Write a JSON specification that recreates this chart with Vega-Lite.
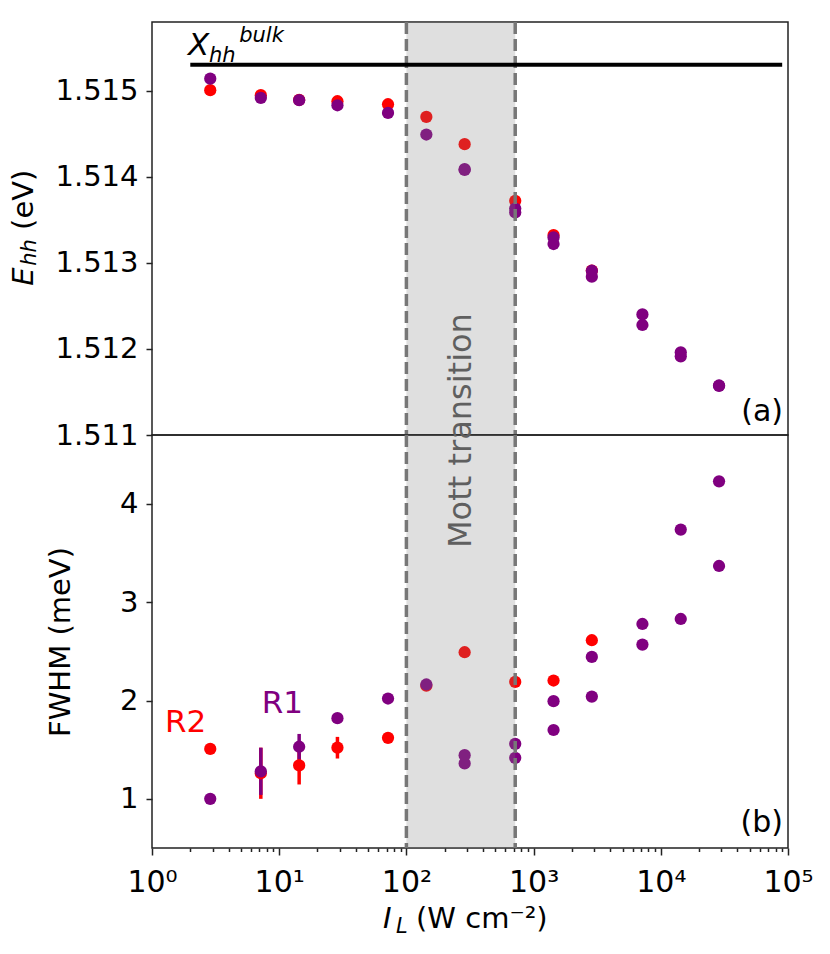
{
  "$schema": "https://vega.github.io/schema/vega-lite/v6.json",
  "description": "Heavy-hole exciton energy and FWHM vs excitation intensity, R1 and R2.",
  "padding": {"left": 9, "top": 19, "right": 5, "bottom": 5},
  "spacing": 0,
  "bounds": "flush",
  "datasets": {
    "top": [
      {"x": 2.87, "e": 1.515005, "s": "R2"},
      {"x": 7.17, "e": 1.514947, "s": "R2"},
      {"x": 14.35, "e": 1.514893, "s": "R2"},
      {"x": 28.7, "e": 1.514877, "s": "R2"},
      {"x": 71.7, "e": 1.514842, "s": "R2"},
      {"x": 143.5, "e": 1.514695, "s": "R2"},
      {"x": 287, "e": 1.514378, "s": "R2"},
      {"x": 717, "e": 1.51372, "s": "R2"},
      {"x": 1435, "e": 1.513322, "s": "R2"},
      {"x": 2870, "e": 1.51291, "s": "R2"},
      {"x": 2.87, "e": 1.515139, "s": "R1"},
      {"x": 7.17, "e": 1.514915, "s": "R1"},
      {"x": 14.35, "e": 1.514889, "s": "R1"},
      {"x": 28.7, "e": 1.51483, "s": "R1"},
      {"x": 71.7, "e": 1.514741, "s": "R1"},
      {"x": 143.5, "e": 1.51449, "s": "R1"},
      {"x": 287, "e": 1.514088, "s": "R1"},
      {"x": 287, "e": 1.514078, "s": "R1"},
      {"x": 717, "e": 1.51363, "s": "R1"},
      {"x": 717, "e": 1.513585, "s": "R1"},
      {"x": 1435, "e": 1.513295, "s": "R1"},
      {"x": 1435, "e": 1.513218, "s": "R1"},
      {"x": 2870, "e": 1.512908, "s": "R1"},
      {"x": 2870, "e": 1.512839, "s": "R1"},
      {"x": 7170, "e": 1.512401, "s": "R1"},
      {"x": 7170, "e": 1.512278, "s": "R1"},
      {"x": 14350, "e": 1.511961, "s": "R1"},
      {"x": 14350, "e": 1.511914, "s": "R1"},
      {"x": 28700, "e": 1.511575, "s": "R1"},
      {"x": 28700, "e": 1.51157, "s": "R1"}
    ],
    "bottom": [
      {"x": 2.87, "w": 1.508, "s": "R2"},
      {"x": 7.17, "w": 1.26, "lo": 1.0, "hi": 1.52, "s": "R2"},
      {"x": 14.35, "w": 1.34, "lo": 1.146, "hi": 1.54, "s": "R2"},
      {"x": 28.7, "w": 1.52, "lo": 1.41, "hi": 1.63, "s": "R2"},
      {"x": 71.7, "w": 1.62, "s": "R2"},
      {"x": 143.5, "w": 2.15, "s": "R2"},
      {"x": 287, "w": 2.491, "s": "R2"},
      {"x": 717, "w": 2.189, "s": "R2"},
      {"x": 1435, "w": 2.203, "s": "R2"},
      {"x": 2870, "w": 2.613, "s": "R2"},
      {"x": 2.87, "w": 1.0, "s": "R1"},
      {"x": 7.17, "w": 1.28, "lo": 1.04, "hi": 1.52, "s": "R1"},
      {"x": 14.35, "w": 1.53, "lo": 1.4, "hi": 1.66, "s": "R1"},
      {"x": 28.7, "w": 1.82, "s": "R1"},
      {"x": 71.7, "w": 2.02, "s": "R1"},
      {"x": 143.5, "w": 2.163, "s": "R1"},
      {"x": 287, "w": 1.444, "s": "R1"},
      {"x": 287, "w": 1.36, "s": "R1"},
      {"x": 717, "w": 1.559, "s": "R1"},
      {"x": 717, "w": 1.417, "s": "R1"},
      {"x": 1435, "w": 1.993, "s": "R1"},
      {"x": 1435, "w": 1.7, "s": "R1"},
      {"x": 2870, "w": 2.443, "s": "R1"},
      {"x": 2870, "w": 2.04, "s": "R1"},
      {"x": 7170, "w": 2.778, "s": "R1"},
      {"x": 7170, "w": 2.569, "s": "R1"},
      {"x": 14350, "w": 3.738, "s": "R1"},
      {"x": 14350, "w": 2.829, "s": "R1"},
      {"x": 28700, "w": 4.229, "s": "R1"},
      {"x": 28700, "w": 3.368, "s": "R1"}
    ]
  },
  "vconcat": [
    {
      "width": 636,
      "height": 413,
      "layer": [
        {
          "data": {"name": "top"},
          "mark": {"type": "circle", "size": 150, "opacity": 1},
          "encoding": {
            "x": {"field": "x", "type": "quantitative", "scale": {"type": "log", "domain": [1, 100000]}, "axis": null},
            "y": {
              "field": "e", "type": "quantitative",
              "scale": {"domain": [1.511, 1.515797], "zero": false, "nice": false},
              "axis": {"values": [1.511, 1.512, 1.513, 1.514, 1.515], "format": ".3f", "title": null}
            },
            "color": {"field": "s", "type": "nominal", "scale": {"domain": ["R2", "R1"], "range": ["#ff0000", "#800080"]}, "legend": null}
          }
        },
        {
          "data": {"values": [{}]},
          "mark": {"type": "rect", "color": "#808080", "opacity": 0.25},
          "encoding": {"x": {"datum": 100, "type": "quantitative"}, "x2": {"datum": 717}}
        },
        {
          "data": {"values": [{}]},
          "layer": [
            {"mark": {"type": "rule", "color": "#777777", "strokeWidth": 3.5, "strokeDash": [12, 5]}, "encoding": {"x": {"datum": 100, "type": "quantitative"}}},
            {"mark": {"type": "rule", "color": "#777777", "strokeWidth": 3.5, "strokeDash": [12, 5]}, "encoding": {"x": {"datum": 717, "type": "quantitative"}}},
            {"mark": {"type": "rule", "color": "#000000", "strokeWidth": 4}, "encoding": {"x": {"datum": 2, "type": "quantitative"}, "x2": {"datum": 90000}, "y": {"datum": 1.5153, "type": "quantitative"}}},
            {"mark": {"type": "text", "text": "X", "fontSize": 31, "fontStyle": "italic", "align": "left", "baseline": "alphabetic", "color": "#000"}, "encoding": {"x": {"datum": 1.919, "type": "quantitative"}, "y": {"datum": 1.515411, "type": "quantitative"}}},
            {"mark": {"type": "text", "text": "hh", "fontSize": 21, "fontStyle": "italic", "align": "left", "baseline": "alphabetic", "color": "#000"}, "encoding": {"x": {"datum": 2.8, "type": "quantitative"}, "y": {"datum": 1.515333, "type": "quantitative"}}},
            {"mark": {"type": "text", "text": "bulk", "fontSize": 21, "fontStyle": "italic", "align": "left", "baseline": "alphabetic", "color": "#000"}, "encoding": {"x": {"datum": 4.85, "type": "quantitative"}, "y": {"datum": 1.515565, "type": "quantitative"}}},
            {"mark": {"type": "text", "text": "(a)", "fontSize": 30, "align": "right", "baseline": "alphabetic", "color": "#000"}, "encoding": {"x": {"datum": 91400, "type": "quantitative"}, "y": {"datum": 1.51116, "type": "quantitative"}}},
            {"mark": {"type": "text", "text": "E", "fontSize": 29, "fontStyle": "italic", "angle": 270, "align": "left", "baseline": "alphabetic", "color": "#000"}, "encoding": {"x": {"datum": 0.117, "type": "quantitative"}, "y": {"datum": 1.512734, "type": "quantitative"}}},
            {"mark": {"type": "text", "text": "hh", "fontSize": 21, "fontStyle": "italic", "angle": 270, "align": "left", "baseline": "alphabetic", "color": "#000"}, "encoding": {"x": {"datum": 0.1225, "type": "quantitative"}, "y": {"datum": 1.512966, "type": "quantitative"}}},
            {"mark": {"type": "text", "text": "(eV)", "fontSize": 29, "angle": 270, "align": "left", "baseline": "alphabetic", "color": "#000"}, "encoding": {"x": {"datum": 0.117, "type": "quantitative"}, "y": {"datum": 1.513382, "type": "quantitative"}}}
          ]
        }
      ]
    },
    {
      "width": 636,
      "height": 413,
      "layer": [
        {
          "data": {"name": "bottom"},
          "transform": [{"filter": "isValid(datum.lo)"}],
          "mark": {"type": "rule", "strokeWidth": 3.5},
          "encoding": {
            "x": {"field": "x", "type": "quantitative", "scale": {"type": "log", "domain": [1, 100000]}},
            "y": {"field": "lo", "type": "quantitative"},
            "y2": {"field": "hi"},
            "color": {"field": "s", "type": "nominal", "scale": {"domain": ["R2", "R1"], "range": ["#ff0000", "#800080"]}, "legend": null}
          }
        },
        {
          "data": {"name": "bottom"},
          "mark": {"type": "circle", "size": 150, "opacity": 1},
          "encoding": {
            "x": {
              "field": "x", "type": "quantitative",
              "scale": {"type": "log", "domain": [1, 100000]},
              "axis": {
                "title": null,
                "values": [1, 2, 3, 4, 5, 6, 7, 8, 9, 10, 20, 30, 40, 50, 60, 70, 80, 90, 100, 200, 300, 400, 500, 600, 700, 800, 900, 1000, 2000, 3000, 4000, 5000, 6000, 7000, 8000, 9000, 10000, 20000, 30000, 40000, 50000, 60000, 70000, 80000, 90000, 100000],
                "labelExpr": "abs(log(datum.value)/LN10 - round(log(datum.value)/LN10)) < 0.001 ? '10' + ['⁰','¹','²','³','⁴','⁵'][round(log(datum.value)/LN10)] : ''",
                "labelOverlap": false,
                "labelFlush": false,
                "labelPadding": 12,
                "labelFontSize": 30,
                "tickSize": {"condition": {"test": "abs(log(datum.value)/LN10 - round(log(datum.value)/LN10)) < 0.001", "value": 7}, "value": 3.5}
              }
            },
            "y": {
              "field": "w", "type": "quantitative",
              "scale": {"domain": [0.5, 4.7], "nice": false, "zero": false},
              "axis": {"values": [1, 2, 3, 4], "format": "d", "title": "FWHM (meV)", "titlePadding": 44}
            },
            "color": {"field": "s", "type": "nominal", "scale": {"domain": ["R2", "R1"], "range": ["#ff0000", "#800080"]}, "legend": null}
          }
        },
        {
          "data": {"values": [{}]},
          "mark": {"type": "rect", "color": "#808080", "opacity": 0.25},
          "encoding": {"x": {"datum": 100, "type": "quantitative"}, "x2": {"datum": 717}}
        },
        {
          "data": {"values": [{}]},
          "layer": [
            {"mark": {"type": "rule", "color": "#777777", "strokeWidth": 3.5, "strokeDash": [12, 5]}, "encoding": {"x": {"datum": 100, "type": "quantitative"}}},
            {"mark": {"type": "rule", "color": "#777777", "strokeWidth": 3.5, "strokeDash": [12, 5]}, "encoding": {"x": {"datum": 717, "type": "quantitative"}}},
            {"mark": {"type": "text", "text": "R2", "fontSize": 31, "align": "left", "baseline": "alphabetic", "color": "#ff0000"}, "encoding": {"x": {"datum": 1.265, "type": "quantitative"}, "y": {"datum": 1.681, "type": "quantitative"}}},
            {"mark": {"type": "text", "text": "R1", "fontSize": 31, "align": "left", "baseline": "alphabetic", "color": "#800080"}, "encoding": {"x": {"datum": 7.29, "type": "quantitative"}, "y": {"datum": 1.868, "type": "quantitative"}}},
            {"mark": {"type": "text", "text": "(b)", "fontSize": 30, "align": "right", "baseline": "alphabetic", "color": "#000"}, "encoding": {"x": {"datum": 91400, "type": "quantitative"}, "y": {"datum": 0.66, "type": "quantitative"}}},
            {"mark": {"type": "text", "text": "Mott transition", "fontSize": 32, "angle": 270, "align": "center", "baseline": "alphabetic", "color": "#5f5f5f"}, "encoding": {"x": {"datum": 320, "type": "quantitative"}, "y": {"datum": 4.745, "type": "quantitative"}}},
            {"mark": {"type": "text", "text": "I", "fontSize": 29, "fontStyle": "italic", "align": "left", "baseline": "alphabetic", "color": "#000"}, "encoding": {"x": {"datum": 65.5, "type": "quantitative"}, "y": {"datum": -0.314, "type": "quantitative"}}},
            {"mark": {"type": "text", "text": "L", "fontSize": 21, "fontStyle": "italic", "align": "left", "baseline": "alphabetic", "color": "#000"}, "encoding": {"x": {"datum": 82.8, "type": "quantitative"}, "y": {"datum": -0.362, "type": "quantitative"}}},
            {"mark": {"type": "text", "text": "(W cm⁻²)", "fontSize": 29, "align": "left", "baseline": "alphabetic", "color": "#000"}, "encoding": {"x": {"datum": 119, "type": "quantitative"}, "y": {"datum": -0.314, "type": "quantitative"}}}
          ]
        }
      ]
    }
  ],
  "config": {
    "font": "DejaVu Sans",
    "view": {"stroke": "#222222", "strokeWidth": 1.5},
    "axis": {
      "grid": false,
      "domain": false,
      "tickColor": "#222222",
      "tickWidth": 1.5,
      "tickSize": 6,
      "labelFont": "DejaVu Sans",
      "labelFontSize": 29,
      "labelColor": "#000000",
      "labelPadding": 8,
      "titleFont": "DejaVu Sans",
      "titleFontSize": 29,
      "titleFontWeight": "normal",
      "titleColor": "#000000"
    }
  }
}
